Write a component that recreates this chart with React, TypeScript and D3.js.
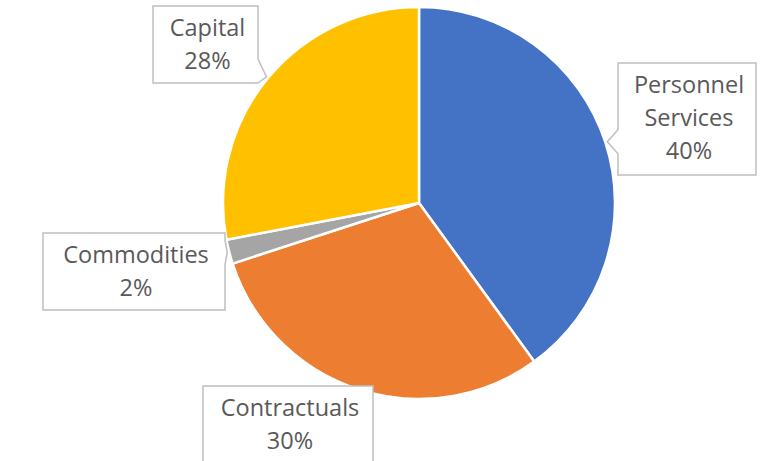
import React from "react";
import * as d3 from "d3";

const categories = ["Personnel Services", "Contractuals", "Commodities", "Capital"];
const values = [40, 30, 2, 28];
const labelLines = [["Personnel", "Services", "40%"], ["Contractuals", "30%"], ["Commodities", "2%"], ["Capital", "28%"]];
const colors = ["#4472C4", "#ED7D31", "#A5A5A5", "#FFC000"];

// callout boxes (x0, y0, x1, y1)
const boxes = [
  [618, 63, 756, 175],
  [203, 386, 373, 475],
  [43, 233, 225, 310],
  [153, 6, 258, 83],
];

const width = 761;
const height = 461;
const cx = 419;
const cy = 203;
const radius = 196;

function calloutPath(b: number[], tip: [number, number]) {
  const [x0, y0, x1, y1] = b;
  const [tx, ty] = tip;
  const hw = 12;
  const clamp = (v: number, lo: number, hi: number) => Math.max(lo, Math.min(hi, v));
  if (tx > x1) {
    const a = clamp(ty - hw, y0, y1 - 2 * hw);
    return `M${x0},${y0}H${x1}V${a}L${tx},${ty}L${x1},${a + 2 * hw}V${y1}H${x0}Z`;
  }
  if (tx < x0) {
    const a = clamp(ty - hw, y0, y1 - 2 * hw);
    return `M${x0},${y0}H${x1}V${y1}H${x0}V${a + 2 * hw}L${tx},${ty}L${x0},${a}Z`;
  }
  return `M${x0},${y0}H${x1}V${y1}H${x0}Z`;
}

export default function App() {
  const pie = d3.pie<number>().sort(null).value((d) => d);
  const arcs = pie(values);
  const arc = d3.arc<d3.PieArcDatum<number>>().innerRadius(0).outerRadius(radius);
  const lineH = 33;

  return (
    <svg
      width={width}
      height={height}
      style={{ position: "absolute", left: 0, top: 0, background: "#fff" }}
      fontFamily="'Open Sans', sans-serif"
    >
      <g transform={`translate(${cx},${cy})`}>
        {arcs.map((a, i) => (
          <path key={categories[i]} d={arc(a) || ""} fill={colors[i]} stroke="#fff" strokeWidth={2.5} />
        ))}
      </g>
      {arcs.map((a, i) => {
        const mid = (a.startAngle + a.endAngle) / 2;
        const tip: [number, number] = [cx + (radius + 2) * Math.sin(mid), cy - (radius + 2) * Math.cos(mid)];
        const b = boxes[i];
        const lines = labelLines[i];
        const midX = (b[0] + b[2]) / 2 + 2;
        const firstBase = b[1] + 30;
        return (
          <g key={"c" + categories[i]}>
            <path d={calloutPath(b, tip)} fill="#fff" stroke="#BFBFBF" strokeWidth={1.5} />
            {lines.map((t, j) => (
              <text
                key={j}
                x={midX}
                y={firstBase + j * lineH}
                textAnchor="middle"
                fontSize={23.5}
                fill="#595959"
              >
                {t}
              </text>
            ))}
          </g>
        );
      })}
    </svg>
  );
}
